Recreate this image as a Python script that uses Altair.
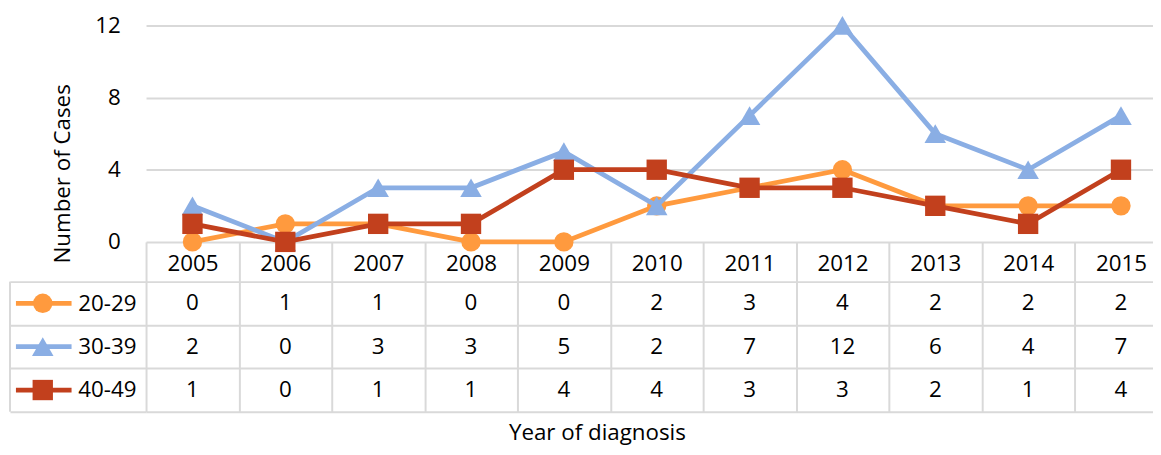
import altair as alt
import pandas as pd

# ---- data ----
years = [2005, 2006, 2007, 2008, 2009, 2010, 2011, 2012, 2013, 2014, 2015]
groups = ["20-29", "30-39", "40-49"]
cases_20_29 = [0, 1, 1, 0, 0, 2, 3, 4, 2, 2, 2]
cases_30_39 = [2, 0, 3, 3, 5, 2, 7, 12, 6, 4, 7]
cases_40_49 = [1, 0, 1, 1, 4, 4, 3, 3, 2, 1, 4]
y_ticks = [0, 4, 8, 12]

# ---- styles ----
colors = ["#FF9A3E", "#8AAEE4", "#C2401D"]
shapes = ["circle", "triangle-up", "square"]
sizes = [380, 470, 420]
FONT = "Open Sans"
FS = 22.5
GRID = "#d9d9d9"
LW = 4.8

W = 1014        # plot width (right part clipped like the reference)
LINE_H = 218    # height of the line area (value 12 -> value 0)
TABLE_TOP = 258 # top of the data rows of the table
H = 389         # bottom of the table

rows = []
for g, vals in zip(groups, [cases_20_29, cases_30_39, cases_40_49]):
    for yr, v in zip(years, vals):
        rows.append({"year": yr, "group": g, "cases": v})
df = pd.DataFrame(rows)
legend_df = pd.DataFrame({"group": groups})

x_scale = alt.Scale(type="band", domain=years, range=[0, 1028.5],
                    paddingInner=0, paddingOuter=0)
x_axis = alt.Axis(orient="bottom", offset=-(H - LINE_H), domain=False,
                  ticks=True, tickBand="extent", tickSize=H - LINE_H,
                  tickColor=GRID, tickWidth=2, grid=False,
                  labelFont=FONT, labelFontSize=FS, labelColor="black",
                  labelPadding=22 - (H - LINE_H), labelBaseline="middle",
                  labelAngle=0,
                  title="Year of diagnosis", titleFont=FONT, titleFontSize=FS,
                  titleFontWeight="normal", titleColor="black",
                  titleX=454, titleY=199, titleAlign="center",
                  titleBaseline="alphabetic")


def X():
    return alt.X("year:O", scale=x_scale, axis=x_axis, bandPosition=0.5)


y_line = alt.Y("cases:Q",
               scale=alt.Scale(domain=[0, 12], range=[LINE_H, 0], nice=False, zero=False),
               axis=alt.Axis(values=y_ticks, grid=True, gridColor=GRID, gridWidth=2,
                             domain=False, ticks=False, labelPadding=26,
                             labelFont=FONT, labelFontSize=FS, labelColor="black",
                             title="Number of Cases", titleFont=FONT, titleFontSize=FS,
                             titleFontWeight="normal", titleColor="black",
                             titleX=-84, titleY=149, titleAngle=-90,
                             titleAlign="center", titleBaseline="middle"))

color = alt.Color("group:N", scale=alt.Scale(domain=groups, range=colors), legend=None)
shape = alt.Shape("group:N", scale=alt.Scale(domain=groups, range=shapes), legend=None)

series_layers = []
for g, s in zip(groups, sizes):
    base = alt.Chart(df).transform_filter(alt.datum.group == g)
    series_layers.append(base.mark_line(strokeWidth=LW).encode(x=X(), y=y_line, color=color))
    series_layers.append(base.mark_point(filled=True, size=s, opacity=1).encode(
        x=X(), y=y_line, color=color, shape=shape))
lines = alt.layer(*series_layers)

y_tab_axis = alt.Axis(orient="left", grid=True, gridColor=GRID, gridWidth=2,
                      tickBand="extent", ticks=True, tickSize=137, tickColor=GRID,
                      tickWidth=2, domain=False, labelFont=FONT, labelFontSize=FS,
                      labelColor="black", labelAlign="right", labelBaseline="middle",
                      labelPadding=10 - 137, title=None)
y_tab = alt.Y("group:N",
              scale=alt.Scale(type="band", domain=groups, range=[TABLE_TOP, H],
                              paddingInner=0, paddingOuter=0),
              axis=y_tab_axis, bandPosition=0.5)

table_text = alt.Chart(df).mark_text(font=FONT, fontSize=FS, color="black",
                                     baseline="middle").encode(
    x=X(), y=y_tab, text="cases:Q")

legend_lines = alt.Chart(legend_df).mark_rule(strokeWidth=LW).encode(
    x=alt.value(-131), x2=alt.value(-75), y=y_tab, color=color)

legend_points = []
for g, s in zip(groups, sizes):
    legend_points.append(
        alt.Chart(legend_df).transform_filter(alt.datum.group == g)
        .mark_point(filled=True, size=s, opacity=1)
        .encode(x=alt.value(-104), y=y_tab, color=color, shape=shape))

border = alt.Chart(pd.DataFrame({"k": [0]})).mark_rule(strokeWidth=2, color=GRID).encode(
    x=alt.value(-137), y=alt.value(TABLE_TOP), y2=alt.value(H))

table = alt.layer(table_text, legend_lines, *legend_points, border)

chart = (
    alt.layer(lines, table)
    .resolve_scale(y="independent")
    .properties(width=W, height=H,
                padding={"left": 139, "top": 16, "right": 0, "bottom": 34},
                autosize=alt.AutoSizeParams(type="none"))
    .configure_view(stroke=None)
)

chart.save("out.html", embed_options={"renderer": "svg", "actions": False})
